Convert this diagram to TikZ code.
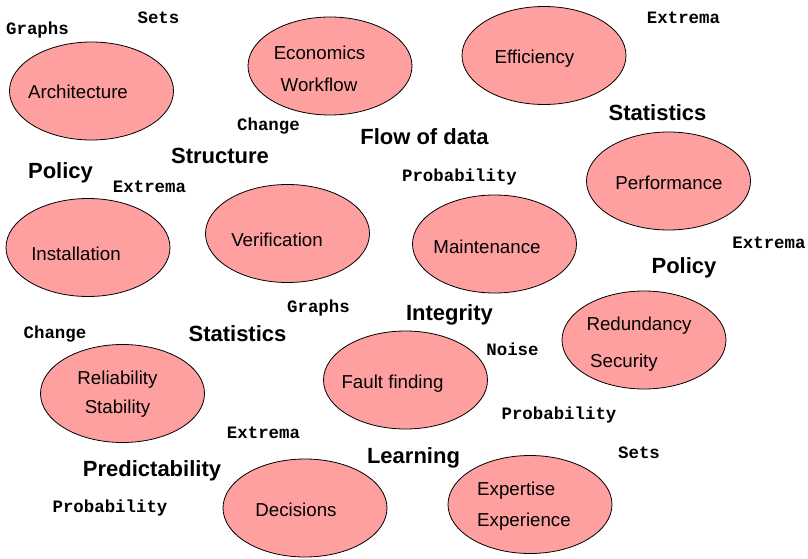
\documentclass[tikz,border=0pt]{standalone}
\usepackage{fontspec}
\setmainfont{Liberation Sans}
\setmonofont{Liberation Mono}
\usetikzlibrary{shapes.geometric}
\definecolor{blobred}{RGB}{255,160,160}

\begin{document}
\begin{tikzpicture}[x=1pt, y=-1pt,
    blob/.style={ellipse, draw=black, fill=blobred, line width=0.8pt,
        minimum width=164pt, minimum height=98pt, inner sep=0pt},
    txt/.style={anchor=base, inner sep=0pt, font=\fontsize{18.7}{22}\selectfont},
    topic/.style={anchor=base, inner sep=0pt, font=\fontsize{22}{26}\selectfont\bfseries},
    tag/.style={anchor=base, inner sep=0pt, font=\fontsize{17.4}{20}\selectfont\ttfamily\bfseries}]
    \useasboundingbox (0,0) rectangle (808,559);
    % ellipses
    \node[blob] (arch) at (91.5,91) {};
    \node[blob] (econ) at (330,66) {};
    \node[blob] (eff) at (544,55.5) {};
    \node[blob] (perf) at (668.5,181) {};
    \node[blob] (inst) at (88,247.5) {};
    \node[blob] (verif) at (287.5,233.5) {};
    \node[blob] (maint) at (494.5,244) {};
    \node[blob] (redund) at (644,340) {};
    \node[blob] (rel) at (122.5,393.5) {};
    \node[blob] (fault) at (405.5,380) {};
    \node[blob] (dec) at (305,508) {};
    \node[blob] (expert) at (530,504.5) {};
    % texts inside
    \node[txt] (arch-t) at (78,99) {Architecture};
    \node[txt] (econ-t1) at (319.5,60) {Economics};
    \node[txt] (econ-t2) at (319,92) {Workflow};
    \node[txt] (eff-t) at (534.5,64) {Efficiency};
    \node[txt] (perf-t) at (669,189) {Performance};
    \node[txt] (inst-t) at (76,260) {Installation};
    \node[txt] (verif-t) at (277,246) {Verification};
    \node[txt] (maint-t) at (487,253) {Maintenance};
    \node[txt] (redund-t1) at (639,330) {Redundancy};
    \node[txt] (redund-t2) at (624,367) {Security};
    \node[txt] (rel-t1) at (117.5,384) {Reliability};
    \node[txt] (rel-t2) at (117.5,413) {Stability};
    \node[txt] (fault-t) at (392.5,388) {Fault finding};
    \node[txt] (dec-t) at (296,516) {Decisions};
    \node[txt, anchor=base west] (expert-t1) at (477,495) {Expertise};
    \node[txt, anchor=base west] (expert-t2) at (477,526) {Experience};
    % bold topics
    \node[topic] (policy1) at (60.5,178) {Policy};
    \node[topic] (structure) at (220,163) {Structure};
    \node[topic] (flow) at (424.5,145) {Flow of data};
    \node[topic] (stats1) at (657.5,121) {Statistics};
    \node[topic] (policy2) at (684,273) {Policy};
    \node[topic] (integrity) at (449.5,320) {Integrity};
    \node[topic] (stats2) at (237.5,341) {Statistics};
    \node[topic] (predict) at (152,476) {Predictability};
    \node[topic] (learning) at (413.5,463) {Learning};
    % mono tags
    \node[tag] (graphs1) at (37.5,35) {Graphs};
    \node[tag] (sets1) at (158.5,24) {Sets};
    \node[tag] (change1) at (268.5,131) {Change};
    \node[tag] (extrema1) at (683.5,24) {Extrema};
    \node[tag] (extrema2) at (149.5,192) {Extrema};
    \node[tag] (prob1) at (459.5,181) {Probability};
    \node[tag] (extrema3) at (769,248) {Extrema};
    \node[tag] (graphs2) at (318.5,312) {Graphs};
    \node[tag] (noise) at (512.5,355) {Noise};
    \node[tag] (change2) at (55,338) {Change};
    \node[tag] (extrema4) at (263.5,438) {Extrema};
    \node[tag] (prob2) at (559,419) {Probability};
    \node[tag] (sets2) at (639,458) {Sets};
    \node[tag] (prob3) at (110,512) {Probability};
\end{tikzpicture}
\end{document}
